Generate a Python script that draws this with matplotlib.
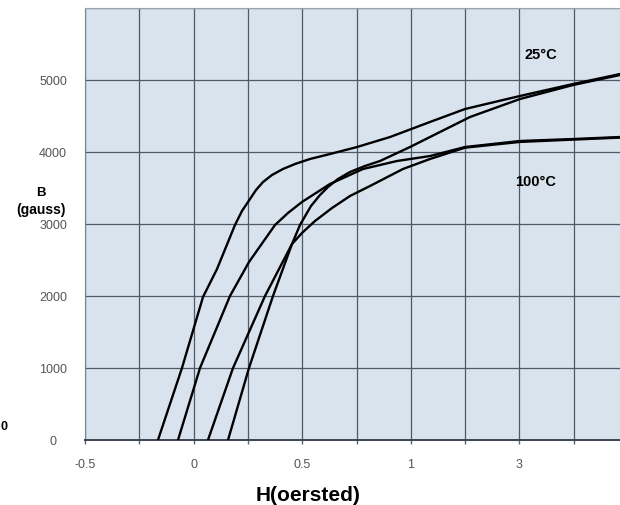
"""
B-H curves at 25 C and 100 C, redrawn from a scanned datasheet figure.
"""
import matplotlib
matplotlib.use("Agg")
import matplotlib.pyplot as plt

plt.rcParams.update({
    "font.family": ["Liberation Sans", "DejaVu Sans"],
    "font.size": 9,
})

# x positions are grid columns (0..10); tick labels below are the printed H values
x_ticks = list(range(11))
x_labels = ["-0.5", "", "0", "", "0.5", "", "1", "", "3", "", ""]
y_ticks = [0, 1000, 2000, 3000, 4000, 5000, 6000]
y_labels = ["0", "1000", "2000", "3000", "4000", "5000", ""]

# 25 C, upper branch
h_25a = [1.344, 1.786, 2.173, 2.431, 2.762, 2.891, 3.039, 3.149, 3.278, 3.444,
         3.646, 3.867, 4.144, 4.512, 5.009, 5.617, 6.354, 6.998, 8.011, 8.987,
         9.853, 10.0]
b_25a = [0, 1000, 1986, 2375, 2986, 3181, 3347, 3472, 3583, 3681,
         3764, 3833, 3903, 3972, 4069, 4208, 4417, 4597, 4778, 4944,
         5083, 5100]

# 25 C, second (steep) branch
h_25b = [2.634, 3.020, 3.462, 3.812, 3.959, 4.162, 4.328, 4.475, 4.659, 4.880,
         5.157, 5.433, 5.985, 6.538, 7.090, 8.011, 8.987, 9.853, 10.0]
b_25b = [0, 1000, 2000, 2722, 2986, 3250, 3403, 3514, 3625, 3722,
         3806, 3875, 4069, 4278, 4486, 4736, 4930, 5069, 5090]

# 100 C, first branch
h_100a = [1.713, 2.118, 2.670, 3.020, 3.499, 3.738, 3.996, 4.512, 5.120, 5.746,
          6.354, 6.998, 8.011, 8.987, 9.853, 10.0]
b_100a = [0, 1000, 2000, 2472, 2986, 3153, 3306, 3556, 3764, 3875,
          3944, 4069, 4153, 4180, 4208, 4210]

# 100 C, second branch
h_100b = [2.265, 2.726, 3.315, 3.812, 3.996, 4.236, 4.549, 4.880, 5.249, 5.856,
          6.354, 6.998, 8.011, 8.987, 9.853, 10.0]
b_100b = [0, 1000, 2000, 2722, 2875, 3042, 3222, 3389, 3528, 3764,
          3903, 4060, 4140, 4172, 4200, 4202]

fig = plt.figure(figsize=(6.2, 5.06), dpi=100)
ax = fig.add_axes([85 / 620, 65 / 506, 543 / 620, 432 / 506])
ax.set_facecolor("#d9e3ee")

for h, b in [(h_25a, b_25a), (h_25b, b_25b), (h_100a, b_100a), (h_100b, b_100b)]:
    ax.plot(h, b, color="black", linewidth=1.7, solid_joinstyle="round",
            solid_capstyle="round", zorder=3)

ax.set_xlim(0, 10)
ax.set_ylim(0, 6000)
ax.set_xticks(x_ticks)
ax.set_xticklabels(x_labels, color="#555555", fontsize=9)
ax.set_yticks(y_ticks)
ax.set_yticklabels(y_labels, color="#555555", fontsize=9)
for lab in ax.get_yticklabels():
    lab.set_horizontalalignment("center")
ax.tick_params(axis="x", length=3, width=1, color="#5a6470", pad=10)
ax.tick_params(axis="y", length=0, pad=23)

ax.grid(True, color="#4f5a66", linewidth=0.9, zorder=1)
ax.set_axisbelow(True)
ax.spines["bottom"].set_color("#3c4550")
ax.spines["bottom"].set_linewidth(1.4)
ax.spines["left"].set_color("#7a8590")
ax.spines["top"].set_color("#9aa3ad")
ax.spines["right"].set_visible(False)

ax.text(0.840, 0.893, "25°C", transform=ax.transAxes, ha="center", va="center",
        fontsize=10.5, fontweight="bold")
ax.text(0.829, 0.600, "100°C", transform=ax.transAxes, ha="center", va="center",
        fontsize=10.5, fontweight="bold")

fig.text(41 / 620, 1 - 193 / 506, "B", ha="center", va="center",
         fontsize=9.5, fontweight="bold")
fig.text(41 / 620, 1 - 210 / 506, "(gauss)", ha="center", va="center",
         fontsize=10, fontweight="bold")
fig.text(4 / 620, 1 - 427 / 506, "0", ha="center", va="center",
         fontsize=9, fontweight="bold")
fig.text(308 / 620, 1 - 496 / 506, "H(oersted)", ha="center", va="center",
         fontsize=15, fontweight="bold")

fig.savefig("out.png", dpi=100, facecolor="white")
